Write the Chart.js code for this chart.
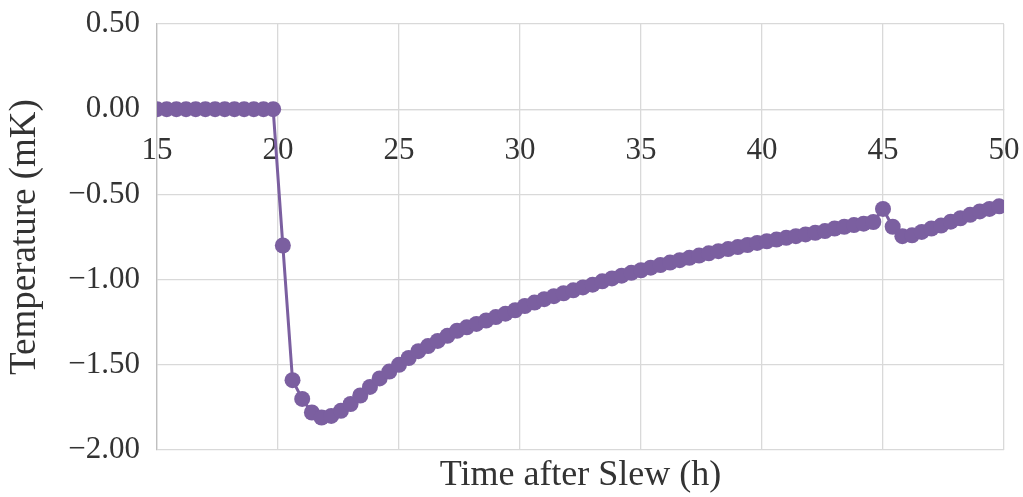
<!DOCTYPE html>
<html>
<head>
<meta charset="utf-8">
<script src="https://cdn.jsdelivr.net/npm/chart.js@4.4.1/dist/chart.umd.min.js"></script>
<style>
  html, body { margin: 0; padding: 0; background: #fff; }
  #wrap { width: 1023px; height: 497px; }
</style>
</head>
<body>
<div id="wrap"><canvas id="myChart"></canvas></div>
<script>
    /* Data */

var times = [
  15.0, 15.4, 15.8, 16.2, 16.6, 17.0, 17.4, 17.8, 18.2, 18.6, 19.0, 19.4, 19.8,
  20.2, 20.6, 21.0, 21.4, 21.8, 22.2, 22.6, 23.0, 23.4, 23.8, 24.2, 24.6,
  25.0, 25.4, 25.8, 26.2, 26.6, 27.0, 27.4, 27.8, 28.2, 28.6, 29.0, 29.4, 29.8,
  30.2, 30.6, 31.0, 31.4, 31.8, 32.2, 32.6, 33.0, 33.4, 33.8, 34.2, 34.6,
  35.0, 35.4, 35.8, 36.2, 36.6, 37.0, 37.4, 37.8, 38.2, 38.6, 39.0, 39.4, 39.8,
  40.2, 40.6, 41.0, 41.4, 41.8, 42.2, 42.6, 43.0, 43.4, 43.8, 44.2, 44.6,
  45.0, 45.4, 45.8, 46.2, 46.6, 47.0, 47.4, 47.8, 48.2, 48.6, 49.0, 49.4, 49.8
];

var temps = [
  0, 0, 0, 0, 0, 0, 0, 0, 0, 0, 0, 0, 0,
  -0.80, -1.59, -1.70, -1.78, -1.81, -1.80, -1.77, -1.73, -1.68, -1.63, -1.58, -1.54,
  -1.50, -1.46, -1.42, -1.39, -1.36, -1.33, -1.30, -1.28, -1.26, -1.24, -1.22, -1.20, -1.18,
  -1.155, -1.135, -1.115, -1.097, -1.08, -1.063, -1.046, -1.03, -1.01, -0.993, -0.977, -0.96,
  -0.945, -0.93, -0.915, -0.90, -0.886, -0.872, -0.859, -0.846, -0.833, -0.821, -0.809, -0.797, -0.785,
  -0.775, -0.765, -0.755, -0.745, -0.735, -0.725, -0.715, -0.70, -0.69, -0.68, -0.672, -0.662,
  -0.585, -0.69, -0.745, -0.74, -0.72, -0.70, -0.683, -0.66, -0.64, -0.62, -0.60, -0.585, -0.57
];

var xTicks = [15, 20, 25, 30, 35, 40, 45, 50];
var yTicks = [-2.0, -1.5, -1.0, -0.5, 0.0, 0.5];

var xTitle = "Time after Slew (h)";
var yTitle = "Temperature (mK)";

    /* Chart */

var points = times.map(function (t, i) { return { x: t, y: temps[i] }; });

var serif = "'Liberation Serif', 'Times New Roman', serif";
var textColor = "#333333";
var gridColor = "#d9d9d9";
var purple = "#7b5fa0";

const ctx = document.getElementById('myChart').getContext('2d');

const myChart = new Chart(ctx, {
    type: 'line',
    data: {
        datasets: [{
            data: points,
            borderColor: purple,
            backgroundColor: purple,
            borderWidth: 3,
            pointRadius: 8,
            pointHoverRadius: 8,
            pointBorderWidth: 0,
            tension: 0
        }]
    },
    options: {
        responsive: true,
        maintainAspectRatio: false,
        animation: false,
        layout: { padding: { top: 24, right: 19, left: 0, bottom: 0 } },
        plugins: {
            legend: { display: false },
            tooltip: { enabled: false }
        },
        scales: {
            x: {
                type: 'linear',
                position: { y: 0 },
                min: 15,
                max: 50,
                afterBuildTicks: function (s) { s.ticks = xTicks.map(function (v) { return { value: v }; }); },
                afterFit: function (s) { s.paddingLeft = 0; s.paddingRight = 0; },
                grid: { color: gridColor, lineWidth: 1.3, drawTicks: false },
                border: { color: gridColor, width: 1.3 },
                ticks: {
                    color: textColor,
                    font: { family: serif, size: 31 },
                    padding: 23,
                    maxRotation: 0,
                    callback: function (v) { return String(v); }
                }
            },
            x2: {
                type: 'linear',
                position: 'bottom',
                min: 0,
                max: 1,
                grid: { display: false },
                border: { display: false },
                ticks: { display: false },
                title: {
                    display: true,
                    text: xTitle,
                    color: textColor,
                    font: { family: serif, size: 36 },
                    padding: { top: 0, bottom: 0 }
                },
                afterFit: function (s) { s.height = 47; s.paddingLeft = 0; s.paddingRight = 0; }
            },
            y: {
                type: 'linear',
                position: 'left',
                min: -2,
                max: 0.5,
                afterBuildTicks: function (s) { s.ticks = yTicks.map(function (v) { return { value: v }; }); },
                grid: { color: gridColor, lineWidth: 1.3, drawTicks: false },
                border: { color: '#bfbfbf', width: 1.3 },
                ticks: {
                    color: textColor,
                    font: { family: serif, size: 31 },
                    padding: 17,
                    callback: function (v) { return v.toFixed(2).replace('-', '\u2212'); }
                },
                title: {
                    display: true,
                    text: yTitle,
                    color: textColor,
                    font: { family: serif, size: 37 },
                    padding: { top: 3, bottom: 0 }
                },
                afterFit: function (s) { s.width = 157; s.paddingTop = 0; s.paddingBottom = 0; }
            }
        }
    }
});
</script>
</body>
</html>
